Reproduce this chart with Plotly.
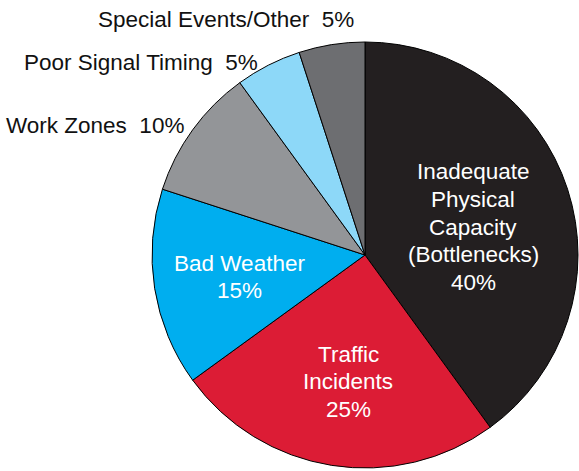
import plotly.graph_objects as go

categories = ["Inadequate Physical Capacity (Bottlenecks)", "Traffic Incidents", "Bad Weather",
              "Work Zones", "Poor Signal Timing", "Special Events/Other"]
values = [40, 25, 15, 10, 5, 5]
label_lines = [["Inadequate", "Physical", "Capacity", "(Bottlenecks)", "40%"],
               ["Traffic", "Incidents", "25%"],
               ["Bad Weather", "15%"],
               ["Work Zones\u00a0 10%"],
               ["Poor Signal Timing\u00a0 5%"],
               ["Special Events/Other\u00a0 5%"]]
colors = ["#231f20", "#dc1c35", "#00aeef", "#939598", "#8dd8f8", "#6d6e71"]
text_colors = ["white", "white", "white", "#111111", "#111111", "#111111"]

W, H = 579, 471
cx, cy, r = 365, 255, 213

fig = go.Figure(go.Pie(
    labels=categories, values=values, sort=False, direction="clockwise", rotation=0,
    marker=dict(colors=colors, line=dict(color="black", width=1)),
    textinfo="none", hoverinfo="label+percent", showlegend=False,
    domain=dict(x=[(cx - r) / W, (cx + r) / W], y=[1 - (cy + r) / H, 1 - (cy - r) / H]),
))

# label anchor positions in pixels (x, first-line center y, xanchor)
label_pos = [(473, 172, "center"), (348, 354, "center"), (240, 263, "center"),
             (186, 126, "right"), (260, 63, "right"), (356, 20, "right")]
line_gap = 27.5
for lines, c, (px, py, xa) in zip(label_lines, text_colors, label_pos):
    for i, t in enumerate(lines):
        fig.add_annotation(x=px / W, y=1 - (py + i * line_gap) / H, xref="paper", yref="paper",
                           text=t, showarrow=False, xanchor=xa, yanchor="middle", align="center",
                           font=dict(family="Liberation Sans, Arial, sans-serif", size=22.5, color=c))

fig.update_layout(width=W, height=H, margin=dict(l=0, r=0, t=0, b=0),
                  paper_bgcolor="white", plot_bgcolor="white")
fig.write_html("out.html")
